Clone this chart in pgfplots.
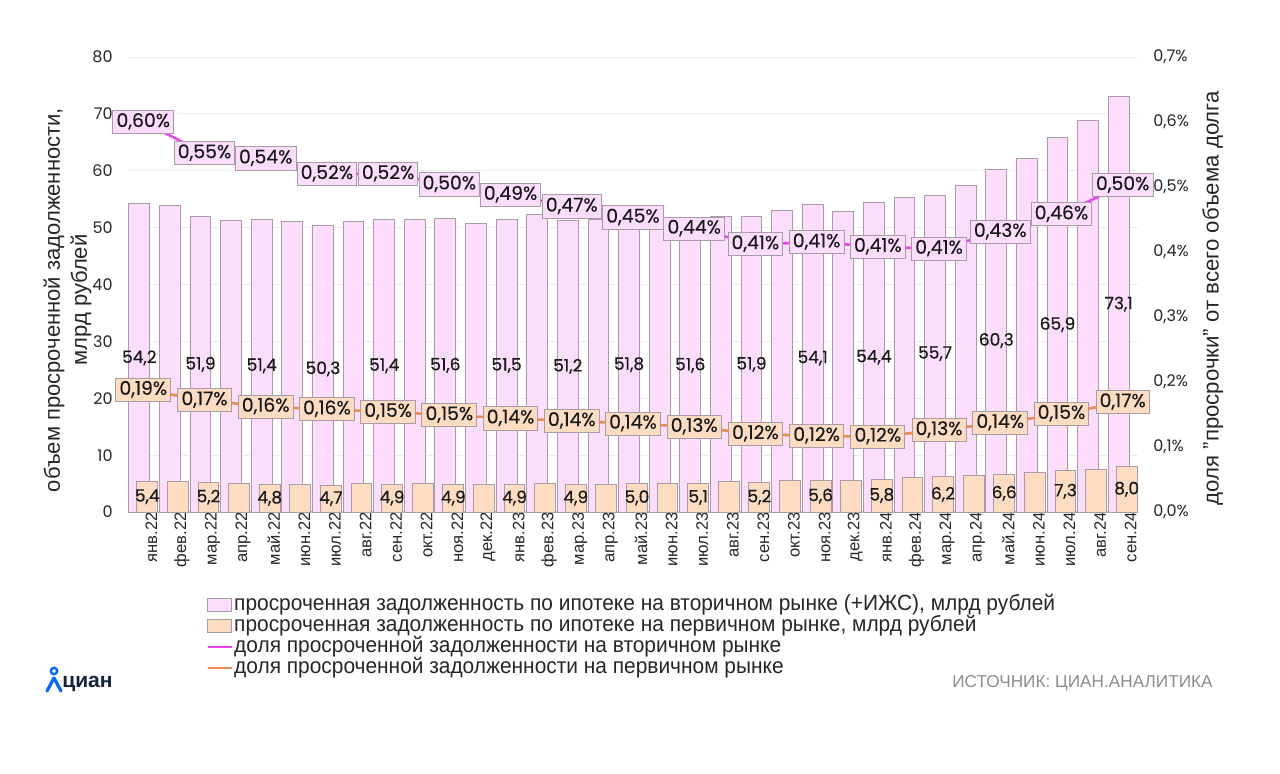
\documentclass[border=0pt]{standalone}
\usepackage{pgfplots}
\pgfplotsset{compat=1.18}
\usepackage{pgfplotstable}
\usepackage{fontspec}
\setmainfont{Liberation Sans}
\newfontfamily\numfont{Poppins}
\newfontfamily\numfontb{Poppins}[FakeBold=0.35]
\newfontfamily\legfont{Liberation Sans}[FakeStretch=0.95]

\definecolor{pinkfill}{HTML}{FCDEFC}
\definecolor{peachfill}{HTML}{FDDCC2}
\definecolor{bargray}{HTML}{A89CA8}
\definecolor{magline}{HTML}{EE44EE}
\definecolor{orline}{HTML}{EC8A50}
\definecolor{gridc}{HTML}{EEEEEE}
\definecolor{navy}{HTML}{152242}
\definecolor{cianblue}{HTML}{0468FF}
\definecolor{srcgray}{HTML}{8C8C8C}

\pgfplotstableread{
x sec prim
0 54.2 5.4
1 53.9 5.3
2 51.9 5.2
3 51.3 5.0
4 51.4 4.8
5 51.0 4.8
6 50.3 4.7
7 51.1 5.0
8 51.4 4.9
9 51.4 5.0
10 51.6 4.9
11 50.8 4.8
12 51.5 4.9
13 52.3 5.0
14 51.2 4.9
15 51.4 4.9
16 51.8 5.0
17 51.2 5.0
18 51.6 5.1
19 52.0 5.3
20 51.9 5.2
21 53.1 5.5
22 54.1 5.6
23 52.9 5.6
24 54.4 5.8
25 55.3 6.0
26 55.7 6.2
27 57.4 6.5
28 60.3 6.6
29 62.2 7.0
30 65.9 7.3
31 68.8 7.5
32 73.1 8.0
}\bars

\pgfplotstableread{
x sec seclab prim primlab
0 54.2 54,2 5.4 5,4
2 51.9 51,9 5.2 5,2
4 51.4 51,4 4.8 4,8
6 50.3 50,3 4.7 4,7
8 51.4 51,4 4.9 4,9
10 51.6 51,6 4.9 4,9
12 51.5 51,5 4.9 4,9
14 51.2 51,2 4.9 4,9
16 51.8 51,8 5.0 5,0
18 51.6 51,6 5.1 5,1
20 51.9 51,9 5.2 5,2
22 54.1 54,1 5.6 5,6
24 54.4 54,4 5.8 5,8
26 55.7 55,7 6.2 6,2
28 60.3 60,3 6.6 6,6
30 65.9 65,9 7.3 7,3
32 73.1 73,1 8.0 8,0
}\barlabels

\pgfplotstableread{
x v l
0 0.600 0,60
2 0.552 0,55
4 0.544 0,54
6 0.520 0,52
8 0.520 0,52
10 0.504 0,50
12 0.488 0,49
14 0.470 0,47
16 0.453 0,45
18 0.436 0,44
20 0.412 0,41
22 0.415 0,41
24 0.408 0,41
26 0.405 0,41
28 0.431 0,43
30 0.458 0,46
32 0.503 0,50
}\secpct

\pgfplotstableread{
x v l
0 0.188 0,19
2 0.172 0,17
4 0.162 0,16
6 0.158 0,16
8 0.154 0,15
10 0.149 0,15
12 0.144 0,14
14 0.140 0,14
16 0.136 0,14
18 0.131 0,13
20 0.120 0,12
22 0.117 0,12
24 0.116 0,12
26 0.126 0,13
28 0.137 0,14
30 0.151 0,15
32 0.169 0,17
}\primpct

\pgfplotsset{
  myaxis/.style={
    at={(64pt,-256pt)}, anchor=south west, scale only axis,
    width=505pt, height=227.5pt,
    xmin=-0.5, xmax=32.5,
    /pgf/number format/assume math mode=true,
  },
  pctlabel/.style={
    nodes near coords={\pgfplotspointmeta\%},
    point meta=explicit symbolic,
    every node near coord/.style={anchor=center, draw=bargray, line width=0.5pt,
      font=\numfontb\fontsize{9.4}{11}\selectfont, text=black!90,
      inner xsep=1.8pt, inner ysep=1.5pt, text height=6.8pt, text depth=1.8pt},
  },
}

\begin{document}
\begin{tikzpicture}
\useasboundingbox (0,0) rectangle (640pt,-386.5pt);
\begin{axis}[
  myaxis,
  ymin=0, ymax=80,
  axis x line*=bottom, axis y line*=left,
  y axis line style={draw=none},
  x axis line style={draw=black!28, line width=0.6pt},
  major tick length=0pt,
  ytick={0,10,...,80},
  ymajorgrids, grid style={gridc, line width=0.5pt},
  yticklabel style={font=\numfont\fontsize{8}{9}\selectfont, text=black!85, inner sep=0pt, xshift=-7.5pt},
  xtick={0,...,32},
  xticklabels={янв.22,фев.22,мар.22,апр.22,май.22,июн.22,июл.22,авг.22,сен.22,окт.22,ноя.22,дек.22,янв.23,фев.23,мар.23,апр.23,май.23,июн.23,июл.23,авг.23,сен.23,окт.23,ноя.23,дек.23,янв.24,фев.24,мар.24,апр.24,май.24,июн.24,июл.24,авг.24,сен.24},
  xticklabel style={rotate=90, anchor=east, inner sep=0pt, yshift=-4pt, font=\fontsize{8.3}{9}\selectfont, text=black!85},
  every axis y label/.style={at={(axis description cs:-0.06,0.466)}, rotate=90, anchor=center},
  ylabel={объем просроченной задолженности,\\[2.5pt]млрд рублей},
  ylabel style={align=center, font=\fontsize{11}{11}\selectfont, text=black!85},
]
\addplot[ybar, bar width=0.68, bar shift=-0.13, fill=pinkfill, draw=bargray, line width=0.5pt] table[x=x, y=sec]{\bars};
\addplot[ybar, bar width=0.68, bar shift=0.13, fill=peachfill, draw=bargray, line width=0.5pt] table[x=x, y=prim]{\bars};
\addplot[draw=none, nodes near coords, point meta=explicit symbolic,
  every node near coord/.style={anchor=center, font=\numfontb\fontsize{8.5}{9}\selectfont, text=black!90}]
  table[x expr=\thisrow{x}-0.13, y expr=\thisrow{sec}/2, meta=seclab]{\barlabels};
\addplot[draw=none, nodes near coords, point meta=explicit symbolic,
  every node near coord/.style={anchor=center, font=\numfontb\fontsize{8.5}{9}\selectfont, text=black!90}]
  table[x expr=\thisrow{x}+0.13, y expr=\thisrow{prim}/2, meta=primlab]{\barlabels};
\end{axis}

\begin{axis}[
  myaxis,
  ymin=0, ymax=0.7,
  axis x line=none, axis y line*=right,
  y axis line style={draw=none},
  major tick length=0pt,
  ytick={0,0.1,0.2,0.3,0.4,0.5,0.6,0.7},
  yticklabel={\pgfmathprintnumber[fixed,fixed zerofill,precision=1,use comma]{\tick}\%},
  yticklabel style={font=\numfont\fontsize{8}{9}\selectfont, text=black!85, inner sep=0pt, xshift=7.5pt, anchor=west},
  every axis y label/.style={at={(axis description cs:1.074,0.47)}, rotate=90, anchor=center},
  ylabel={доля "просрочки" от всего объема долга},
  ylabel style={font=\fontsize{11.1}{12}\selectfont, text=black!85},
  legend style={at={(axis description cs:0.0715,-0.172)}, anchor=north west, draw=none, fill=none,
    font=\legfont\fontsize{11}{12}\selectfont, text=black!85, row sep=0pt,
    nodes={inner sep=0.5pt, text height=7.4pt, text depth=2.1pt}},
  legend cell align=left,
]
\addlegendimage{legend image code/.code={\draw[fill=pinkfill, draw=bargray, line width=0.5pt] (0pt,-3.3pt) rectangle (12pt,3.3pt);}}
\addlegendentry{просроченная задолженность по ипотеке на вторичном рынке (+ИЖС), млрд рублей}
\addlegendimage{legend image code/.code={\draw[fill=peachfill, draw=bargray, line width=0.5pt] (0pt,-3.3pt) rectangle (12pt,3.3pt);}}
\addlegendentry{просроченная задолженность по ипотеке на первичном рынке, млрд рублей}
\addlegendimage{legend image code/.code={\draw[magline, line width=1.3pt] (0pt,0pt) -- (12pt,0pt);}}
\addlegendentry{доля просроченной задолженности на вторичном рынке}
\addlegendimage{legend image code/.code={\draw[orline, line width=1.3pt] (0pt,0pt) -- (12pt,0pt);}}
\addlegendentry{доля просроченной задолженности на первичном рынке}

\addplot[forget plot, magline, line width=1.3pt, mark=none, pctlabel,
  every node near coord/.append style={fill=pinkfill}] table[x=x, y=v, meta=l]{\secpct};
\addplot[forget plot, orline, line width=1.3pt, mark=none, pctlabel,
  every node near coord/.append style={fill=peachfill}] table[x=x, y=v, meta=l]{\primpct};
\end{axis}

% source and logo
\node[anchor=east, text=srcgray, font=\fontsize{8.6}{10}\selectfont, inner sep=0pt] at (606.5pt,-341.5pt) {ИСТОЧНИК: ЦИАН.АНАЛИТИКА};
\draw[cianblue, line width=1.2pt] (27pt,-335.5pt) circle (1.6pt);
\draw[cianblue, line width=1.6pt, line cap=round, line join=round] (23.5pt,-345.5pt) -- (27pt,-339pt) -- (30.5pt,-345.5pt);
\node[anchor=west, text=navy, font=\bfseries\fontsize{10.5}{12}\selectfont, inner sep=0pt] at (31pt,-342pt) {циан};
\end{tikzpicture}
\end{document}
